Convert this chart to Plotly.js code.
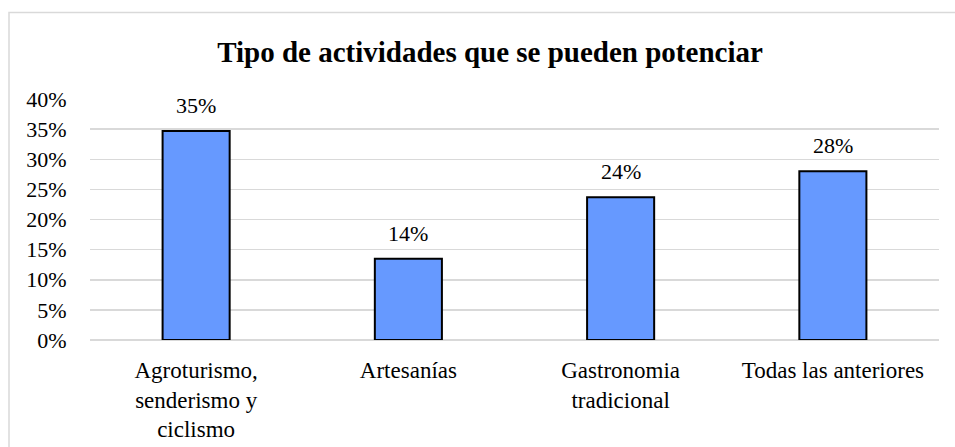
<!DOCTYPE html>
<html>
<head>
<meta charset="utf-8">
<script src="https://cdn.plot.ly/plotly-3.0.1.min.js"></script>
<style>
html,body{margin:0;padding:0;background:#fff;overflow:hidden;}
#chart{width:955px;height:447px;}
</style>
</head>
<body>
<div id="chart"></div>
<script>
const categories = ["Agroturismo,<br>senderismo y<br>ciclismo", "Artesanías", "Gastronomia<br>tradicional", "Todas las anteriores"];
const values = [0.347, 0.135, 0.237, 0.280];
const yTickValues = [0, 0.05, 0.10, 0.15, 0.20, 0.25, 0.30, 0.35, 0.40];
const titleText = "Tipo de actividades que se pueden potenciar";

const W = 955, H = 447;
const margin = {l: 90, r: 16, t: 99, b: 107, pad: 0};
const pw = W - margin.l - margin.r, ph = H - margin.t - margin.b;
function px(x){ return (x - margin.l) / pw; }
function py(y){ return (H - margin.b - y) / ph; }

const serif = "'Liberation Serif', 'Times New Roman', serif";

const trace = {
  type: 'bar',
  x: categories,
  y: values,
  width: 0.316,
  marker: {color: '#6699FF', line: {color: '#000000', width: 2}},
  hoverinfo: 'skip'
};

const annotations = categories.map((c, i) => ({
  x: c, y: values[i], xref: 'x', yref: 'y',
  text: Math.round(values[i] * 100) + '%',
  showarrow: false, yanchor: 'bottom', yshift: 11,
  font: {family: serif, size: 22, color: '#000000'}
}));

const layout = {
  width: W, height: H,
  margin: margin,
  paper_bgcolor: '#ffffff',
  plot_bgcolor: '#ffffff',
  showlegend: false,
  title: {
    text: '<b>' + titleText + '</b>',
    font: {family: serif, size: 29, color: '#000000'},
    x: 490 / W, xanchor: 'center', xref: 'container',
    y: 1 - 52/H, yanchor: 'middle', yref: 'container'
  },
  xaxis: {
    type: 'category',
    showgrid: false,
    zeroline: false,
    showline: false,
    ticks: 'outside', ticklen: 9, tickcolor: 'rgba(0,0,0,0)',
    tickfont: {family: serif, size: 23, color: '#000000'},
    fixedrange: true
  },
  yaxis: {
    range: [0, 0.40],
    tickvals: yTickValues,
    tickformat: '.0%',
    showgrid: true, gridcolor: '#d9d9d9', gridwidth: 1.5,
    zeroline: true, zerolinecolor: '#d9d9d9', zerolinewidth: 1.5,
    showline: false,
    ticks: 'outside', ticklen: 18, tickcolor: 'rgba(0,0,0,0)',
    tickfont: {family: serif, size: 22, color: '#000000'},
    fixedrange: true
  },
  annotations: annotations,
  shapes: [{
    type: 'rect', xref: 'paper', yref: 'paper', layer: 'below',
    x0: px(9), x1: px(W + 20), y0: py(H + 20), y1: py(12.5),
    line: {color: '#d9d9d9', width: 1.5}, fillcolor: 'rgba(0,0,0,0)'
  }]
};

Plotly.newPlot('chart', [trace], layout, {displayModeBar: false, staticPlot: true});
</script>
</body>
</html>
